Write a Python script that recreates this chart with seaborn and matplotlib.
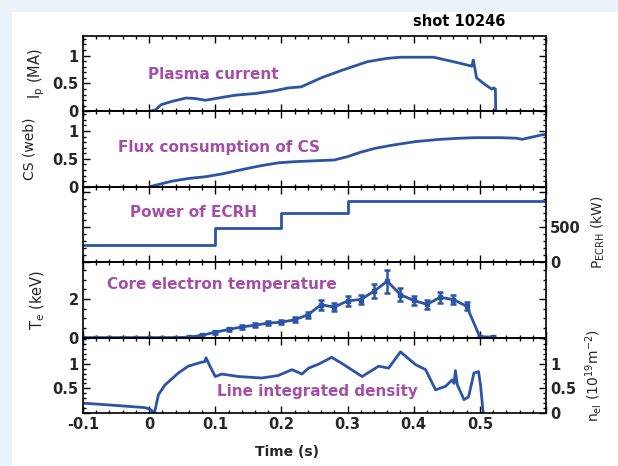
import numpy as np
import seaborn as sns
from matplotlib import pyplot as plt
from matplotlib.patches import Rectangle
from matplotlib.ticker import MultipleLocator, FixedLocator, FuncFormatter

# ---- data ----
ip_t = [-0.1, 0.0, 0.01, 0.018, 0.035, 0.056, 0.07, 0.085, 0.1, 0.13, 0.16, 0.19,
        0.21, 0.23, 0.245, 0.26, 0.29, 0.33, 0.36, 0.38, 0.43, 0.46, 0.488, 0.49,
        0.492, 0.495, 0.509, 0.518, 0.521, 0.5235, 0.524, 0.6]
ip_v = [0.0, 0.0, 0.03, 0.12, 0.18, 0.24, 0.23, 0.2, 0.23, 0.29, 0.32, 0.37,
        0.42, 0.44, 0.52, 0.6, 0.73, 0.89, 0.95, 0.97, 0.97, 0.89, 0.81, 0.92,
        0.8, 0.6, 0.47, 0.4, 0.42, 0.4, 0.0, 0.0]

cs_t = [0.0, 0.034, 0.06, 0.085, 0.11, 0.145, 0.17, 0.196, 0.22, 0.24, 0.26, 0.28,
        0.3, 0.32, 0.342, 0.37, 0.403, 0.44, 0.47, 0.494, 0.53, 0.555, 0.564, 0.575,
        0.594, 0.6]
cs_v = [0.0, 0.1, 0.15, 0.18, 0.23, 0.32, 0.38, 0.43, 0.45, 0.46, 0.47, 0.48,
        0.54, 0.62, 0.69, 0.75, 0.81, 0.85, 0.87, 0.88, 0.88, 0.87, 0.85, 0.88,
        0.93, 0.94]

ecrh_t = [-0.1, 0.1, 0.2, 0.3, 0.6]
ecrh_p = [250, 480, 700, 870, 870]

te_t = [-0.1, -0.08, -0.06, -0.04, -0.02, 0.0, 0.02, 0.04, 0.06, 0.08, 0.1, 0.12,
        0.14, 0.16, 0.18, 0.2, 0.22, 0.24, 0.26, 0.28, 0.3, 0.32, 0.34, 0.36,
        0.38, 0.4, 0.42, 0.44, 0.46, 0.48, 0.5, 0.52]
te_v = [0.0, 0.0, 0.0, 0.0, 0.0, 0.0, 0.0, 0.0, 0.02, 0.12, 0.28, 0.42,
        0.55, 0.64, 0.75, 0.8, 0.92, 1.18, 1.7, 1.58, 1.9, 1.97, 2.4, 2.92,
        2.22, 1.92, 1.72, 2.08, 1.97, 1.62, 0.04, 0.03]
te_err = [0.05, 0.05, 0.05, 0.05, 0.05, 0.05, 0.05, 0.05, 0.05, 0.08, 0.08, 0.08,
          0.1, 0.1, 0.1, 0.1, 0.12, 0.15, 0.25, 0.2, 0.25, 0.25, 0.35, 0.6,
          0.35, 0.25, 0.25, 0.3, 0.25, 0.2, 0.05, 0.05]

ne_t = [-0.1, -0.057, -0.007, 0.001, 0.008, 0.014, 0.024, 0.044, 0.059, 0.079, 0.084,
        0.086, 0.092, 0.1, 0.11, 0.135, 0.17, 0.195, 0.216, 0.231, 0.241, 0.256,
        0.276, 0.291, 0.322, 0.347, 0.362, 0.38, 0.403, 0.418, 0.433, 0.448, 0.458,
        0.461, 0.463, 0.466, 0.476, 0.483, 0.491, 0.498, 0.501, 0.505]
ne_v = [0.2, 0.16, 0.11, 0.08, 0.0, 0.37, 0.57, 0.81, 0.95, 1.03, 1.04,
        1.12, 0.95, 0.74, 0.79, 0.74, 0.71, 0.76, 0.88, 0.79, 0.91, 0.99,
        1.13, 1.01, 0.74, 0.95, 0.91, 1.24, 0.98, 0.88, 0.47, 0.54, 0.67,
        0.6, 0.86, 0.57, 0.27, 0.33, 0.81, 0.84, 0.57, 0.0]

panel_text = ["Plasma current", "Flux consumption of CS", "Power of ECRH",
              "Core electron temperature", "Line integrated density"]

LINE = "#2c54a6"
PURPLE = "#a54ea6"

sns.set_theme(style="ticks")
plt.rcParams["font.family"] = ["DejaVu Sans"]
plt.rcParams["mathtext.default"] = "regular"

fig, axes = plt.subplots(5, 1, sharex=True, figsize=(6.18, 4.66), dpi=100)
fig.subplots_adjust(left=83 / 618, right=546 / 618, top=1 - 36 / 466,
                    bottom=1 - 413 / 466, hspace=0)
fig.patch.set_facecolor("#eaf2fa")
fig.patches.append(Rectangle((12 / 618, 0), 1, 1 - 12 / 466, transform=fig.transFigure,
                             color="white", zorder=-10))

gfmt = FuncFormatter(lambda v, p: "{:g}".format(round(v, 3)))
xfmt = FuncFormatter(lambda v, p: "" if v > 0.55 else "{:g}".format(round(v, 3)))
pfmt = FuncFormatter(lambda v, p: "" if v > 900 else "{:g}".format(v))

for ax in axes:
    ax.set_facecolor("none")
    ax.set_xlim(-0.1, 0.6)
    ax.xaxis.set_major_locator(MultipleLocator(0.1))
    ax.xaxis.set_minor_locator(MultipleLocator(0.02))
    ax.tick_params(which="both", direction="in", top=True, right=True,
                   labelsize=10.5, width=1, color="black", pad=3)
    ax.tick_params(which="major", length=5)
    ax.tick_params(which="minor", length=2.5)
    for s in ax.spines.values():
        s.set_linewidth(1.2)
        s.set_color("black")
    ax.yaxis.set_major_formatter(gfmt)
    ax.xaxis.set_major_formatter(xfmt)

# plasma current
ax = axes[0]
sns.lineplot(x=ip_t, y=ip_v, ax=ax, color=LINE, lw=2, sort=False, estimator=None)
ax.set_ylim(0, 1.35)
ax.yaxis.set_major_locator(FixedLocator([0, 0.5, 1]))
ax.yaxis.set_minor_locator(MultipleLocator(0.1))
ax.set_ylabel("I$_{p}$ (MA)", fontsize=10.5)
ax.yaxis.set_label_coords(-0.078, 0.5)

# flux consumption
ax = axes[1]
sns.lineplot(x=cs_t, y=cs_v, ax=ax, color=LINE, lw=2, sort=False, estimator=None)
ax.set_ylim(0, 1.35)
ax.yaxis.set_major_locator(FixedLocator([0, 0.5, 1]))
ax.yaxis.set_minor_locator(MultipleLocator(0.1))
ax.set_ylabel("CS (web)", fontsize=10)
ax.yaxis.set_label_coords(-0.10, 0.5)

# ECRH power
ax = axes[2]
sns.lineplot(x=ecrh_t, y=ecrh_p, ax=ax, color=LINE, lw=2, sort=False, estimator=None,
             drawstyle="steps-post")
ax.set_ylim(0, 1070)
ax.yaxis.set_major_locator(FixedLocator([0, 500, 1000]))
ax.yaxis.set_minor_locator(MultipleLocator(100))
ax.yaxis.set_major_formatter(pfmt)
ax.tick_params(axis="y", labelleft=False, labelright=True)
ax.yaxis.set_label_position("right")
ax.set_ylabel("P$_{ECRH}$ (kW)", fontsize=10)
ax.yaxis.set_label_coords(1.095, 0.4)

# electron temperature
ax = axes[3]
ax.errorbar(te_t, te_v, yerr=te_err, color=LINE, lw=2, marker="s", ms=3,
            capsize=2.5, elinewidth=1.8, capthick=1.8)
ax.set_ylim(0, 3.9)
ax.yaxis.set_major_locator(FixedLocator([0, 2]))
ax.yaxis.set_minor_locator(MultipleLocator(0.5))
ax.set_ylabel("T$_{e}$ (keV)", fontsize=10.5)
ax.yaxis.set_label_coords(-0.078, 0.5)

# density
ax = axes[4]
sns.lineplot(x=ne_t, y=ne_v, ax=ax, color=LINE, lw=2, sort=False, estimator=None)
ax.set_ylim(0, 1.53)
ax.yaxis.set_major_locator(FixedLocator([0, 0.5, 1]))
ax.yaxis.set_minor_locator(MultipleLocator(0.1))
ax.tick_params(axis="y", labelleft=True, labelright=True)
ax.yaxis.set_label_position("right")
ax.set_ylabel("n$_{el}$ (10$^{19}$m$^{-2}$)", fontsize=10)
ax.yaxis.set_label_coords(1.08, 0.5)
ax.set_xlabel("Time (s)", fontsize=10, fontweight="bold")
ax.xaxis.set_label_coords(0.44, -0.43)

fig.canvas.draw()
for ax in axes:
    for lab in ax.get_xticklabels():
        lab.set_fontweight("bold")
    for t in ax.yaxis.get_major_ticks():
        t.label1.set_fontweight("bold")
        t.label2.set_fontweight("bold")
# no "0" on the left of the density panel
axes[4].yaxis.get_major_ticks()[0].label1.set_visible(False)

text_pos = [(0.140, 0.49), (0.076, 0.52), (0.102, 0.66), (0.051, 0.70), (0.289, 0.28)]
for ax, txt, (tx, ty) in zip(axes, panel_text, text_pos):
    ax.text(tx, ty, txt, transform=ax.transAxes, ha="left", va="center",
            color=PURPLE, fontsize=11, fontweight="bold")

fig.text(413 / 618, 1 - 22 / 466, "shot 10246", ha="left", va="center",
         fontsize=10.5, fontweight="bold", color="black")

fig.savefig("out.png", dpi=100, facecolor=fig.get_facecolor())
